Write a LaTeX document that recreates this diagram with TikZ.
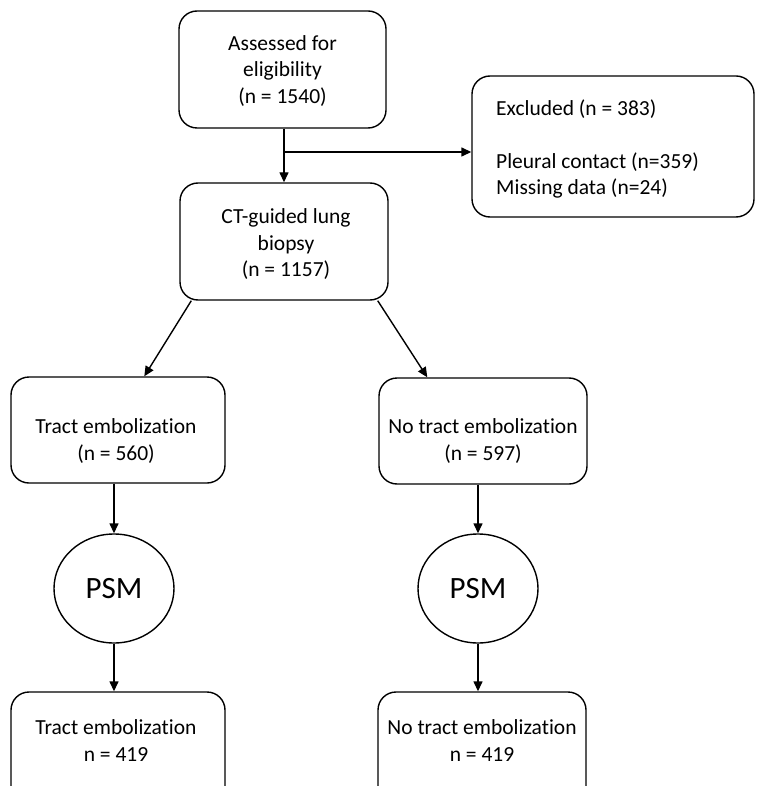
\documentclass[tikz,border=0pt]{standalone}
\usepackage{fontspec}
\setmainfont{Carlito}[Ligatures={NoCommon,NoContextual}]
\usetikzlibrary{arrows.meta,shapes.geometric}
\begin{document}
\begin{tikzpicture}[x=1pt,y=-1pt,
  box/.style={draw,line width=1.4pt,rounded corners=18pt,inner sep=0pt},
  txt/.style={font=\fontsize{21.5}{26.5}\selectfont,align=center,inner sep=0pt},
  psm/.style={draw,line width=1.4pt,ellipse,inner sep=0pt,minimum width=120pt,minimum height=109pt,font=\fontsize{31}{36}\selectfont},
  arr/.style={line width=1.4pt,-{Triangle[length=10pt,width=9pt]}}]
\useasboundingbox (0,0) rectangle (756,786);
% boxes
\node[box,minimum width=207pt,minimum height=117pt] (A) at (282.5,69.5) {};
\node[txt] (At) at (282.5,71) {Assessed for\\eligibility\\(n = 1540)};
\node[box,minimum width=282pt,minimum height=141pt] (EX) at (613,146.5) {};
\node[txt,align=left,anchor=west] (EXt) at (496,149) {Excluded (n = 383)\\[26.5pt]Pleural contact (n=359)\\Missing data (n=24)};
\node[box,minimum width=208pt,minimum height=117pt] (B) at (284,241.5) {};
\node[txt] (Bt) at (286,244.5) {CT-guided lung\\biopsy\\(n = 1157)};
\node[box,minimum width=214pt,minimum height=106pt] (TE) at (118,430) {};
\node[txt] (TEt) at (116,441) {Tract embolization\\(n = 560)};
\node[box,minimum width=208pt,minimum height=106pt] (NTE) at (483,431) {};
\node[txt] (NTEt) at (483,441) {No tract embolization\\(n = 597)};
\node[psm] (P1) at (114,588.5) {PSM};
\node[psm] (P2) at (478,588.5) {PSM};
\node[box,minimum width=214pt,minimum height=130pt] (TE2) at (118,757) {};
\node[txt] (TE2t) at (116,740.5) {Tract embolization\\n = 419};
\node[box,minimum width=208pt,minimum height=130pt] (NTE2) at (482,757) {};
\node[txt] (NTE2t) at (482,740.5) {No tract embolization\\n = 419};
% connectors
\coordinate (br) at (284,152);
\draw[arr] (A.south -| br) -- (B.north -| br);
\draw[arr] (br) -- (br -| EX.west);
\draw[arr] ([xshift=12pt]B.south west) -- ([xshift=134pt]TE.north west);
\draw[arr] ([xshift=-11pt]B.south east) -- ([xshift=49pt]NTE.north west);
\draw[arr] (TE.south -| P1) -- (P1.north);
\draw[arr] (P1.south) -- (TE2.north -| P1);
\draw[arr] (NTE.south -| P2) -- (P2.north);
\draw[arr] (P2.south) -- (NTE2.north -| P2);
\end{tikzpicture}
\end{document}
